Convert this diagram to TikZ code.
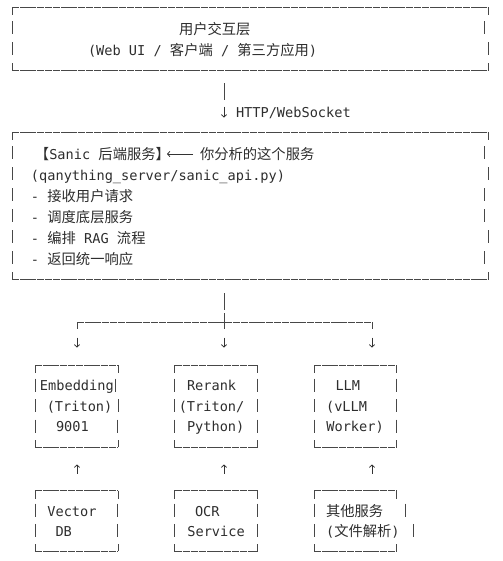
\documentclass[tikz,border=0pt]{standalone}
\usepackage{fontspec}
\setmonofont{DejaVu Sans Mono}
\newfontfamily\cjkfont{Noto Sans CJK SC}[Scale=1.05]
\usetikzlibrary{fit,arrows.meta}
\newcommand\zh[1]{{\cjkfont #1}}
% vertical side of an ascii frame: corner x, top, bottom, rows, x of each row bar
\newcommand\sideb[5]{%
  \draw[vrule] (#1,#2) -- (#1,#2+8);
  \draw[vrule] (#1,#3-7) -- (#1,#3);
  \foreach \xx [count=\i] in {#5}{%
    \pgfmathsetmacro\cc{#2+\i*(#3-#2)/(#4+1)}%
    \draw[vrule] (\xx,\cc-7) -- (\xx,\cc+6);}%
}
\newcommand\hsides[4]{%
  \draw[hrule] (#1,#3) -- (#2,#3);
  \draw[hrule] (#1,#4) -- (#2,#4);}
\begin{document}
\begin{tikzpicture}[x=0.75pt,y=-0.75pt,
  txt/.style={anchor=base west,inner sep=0pt,outer sep=0pt,font=\ttfamily\fontsize{10.21}{12}\selectfont,text=black!82},
  frame/.style={inner sep=0pt,outer sep=0pt,draw=none},
  hrule/.style={draw=black!72,line width=0.6pt,dash pattern=on 5.6pt off 0.55pt},
  vrule/.style={draw=black!72,line width=0.6pt},
  vstroke/.style={draw=black!72,line width=0.6pt},
  arrowglyph/.style={draw=black!80,line width=0.6pt,-{Straight Barb[length=1.8pt,width=4pt]}},
]
\fill[white] (0,0) rectangle (503,561);
\useasboundingbox (0,0) rectangle (503,561);

% frame nodes
\node[frame,fit={(12,7)(488,70)}] (user) {};
\node[frame,fit={(12,132.3)(488,279)}] (sanic) {};
\node[frame,fit={(35,365)(118,447)}] (emb) {};
\node[frame,fit={(174.3,365)(257.7,447)}] (rerank) {};
\node[frame,fit={(314,365)(396.7,447)}] (llm) {};
\node[frame,fit={(35,490.5)(118,551)}] (vdb) {};
\node[frame,fit={(174.3,490.5)(257.7,551)}] (ocr) {};
\node[frame,fit={(314,490.5)(396.7,551)}] (other) {};

% ---- top box
\hsides{12}{488}{7}{70}
\sideb{12}{7}{70}{2}{12,12}
\sideb{488}{7}{70}{2}{484,488}
\node[txt] (userT) at (179,34) {\zh{用户交互层}};
\node[txt] (userS) at (88,55.5) {(Web UI / \zh{客户端} / \zh{第三方应用})};

% ---- connector user -> sanic
\coordinate (u1) at (224,83);
\coordinate (u2) at (224,100);
\draw[vstroke] (u1) -- (u2);
\coordinate (u3) at (224,106.5);
\coordinate (u4) at (224,117.5);
\draw[arrowglyph] (u3) -- (u4);
\node[txt] (http) at (236,117) {HTTP/WebSocket};

% ---- sanic box
\hsides{12}{488}{132.3}{279}
\sideb{12}{132.3}{279}{6}{12,12,12,12,12,12}
\sideb{488}{132.3}{279}{6}{484,488,484,484,488,484}
\node[txt] (title) at (35,159.5) {\zh{【}Sanic \zh{后端服务】}};
\node[txt] (note) at (200,159.5) {\zh{你分析的这个服务}};
\coordinate (n1) at (193,154);
\coordinate (n2) at (167,154);
\draw[arrowglyph] (n1) -- (n2);
\node[txt] (path) at (31,180.2) {(qanything\_server/sanic\_api.py)};
\node[txt] (l1) at (31,201.2) {- \zh{接收用户请求}};
\node[txt] (l2) at (31,222.1) {- \zh{调度底层服务}};
\node[txt] (l3) at (31,243.1) {- \zh{编排} RAG \zh{流程}};
\node[txt] (l4) at (31,264) {- \zh{返回统一响应}};

% ---- connector sanic -> services
\coordinate (s1) at (224,293);
\coordinate (s2) at (224,310);
\draw[vstroke] (s1) -- (s2);
\coordinate (jt) at (224,313);
\coordinate (jb) at (224,329);
\draw[vstroke] (jt) -- (jb);
\coordinate (jl) at (77,322);
\coordinate (jr) at (372,322);
\draw[hrule] (jl) -- (jr);
\coordinate (jl2) at (77,329);
\coordinate (jr2) at (372,329);
\draw[vstroke] (jl) -- (jl2);
\draw[vstroke] (jr) -- (jr2);
\foreach \ax in {77,224,372}{
  \draw[arrowglyph] (\ax,337.5) -- (\ax,347.5);
  \draw[arrowglyph] (\ax,473.5) -- (\ax,464.5);
}

% ---- row 1 boxes
\hsides{35}{118}{365}{447}
\sideb{35}{365}{447}{3}{35,35,35}
\sideb{118}{365}{447}{3}{115,118,117.5}
\hsides{174.3}{257.7}{365}{447}
\sideb{174.3}{365}{447}{3}{174.3,174.3,174.3}
\sideb{257.7}{365}{447}{3}{257,257.7,257.7}
\hsides{314}{396.7}{365}{447}
\sideb{314}{365}{447}{3}{314,314,314}
\sideb{396.7}{365}{447}{3}{396,396,396}

\node[txt] (e1) at (40,390.5) {Embedding};
\node[txt] (e2) at (46.8,411) {(Triton)};
\node[txt] (e3) at (56,431.5) {9001};
\node[txt] (r1) at (187,390.5) {Rerank};
\node[txt] (r2) at (178.8,411) {(Triton/};
\node[txt] (r3) at (187,431.5) {Python)};
\node[txt] (m1) at (335.5,390.5) {LLM};
\node[txt] (m2) at (326.1,411) {(vLLM};
\node[txt] (m3) at (326.4,431.5) {Worker)};

% ---- row 2 boxes
\hsides{35}{118}{490.5}{551}
\sideb{35}{490.5}{551}{2}{35,35}
\sideb{118}{490.5}{551}{2}{117,117}
\hsides{174.3}{257.7}{490.5}{551}
\sideb{174.3}{490.5}{551}{2}{174.3,174.3}
\sideb{257.7}{490.5}{551}{2}{257.7,257.7}
\hsides{314}{396.7}{490.5}{551}
\sideb{314}{490.5}{551}{2}{314,314}
\sideb{396.7}{490.5}{551}{2}{405,413}

\node[txt] (v1) at (47.4,516.2) {Vector};
\node[txt] (v2) at (55.5,536.3) {DB};
\node[txt] (o1) at (195,516.2) {OCR};
\node[txt] (o2) at (187.4,536.3) {Service};
\node[txt] (q1) at (326,516.2) {\zh{其他服务}};
\node[txt] (q2) at (326.1,536.3) {(\zh{文件解析})};
\end{tikzpicture}
\end{document}
